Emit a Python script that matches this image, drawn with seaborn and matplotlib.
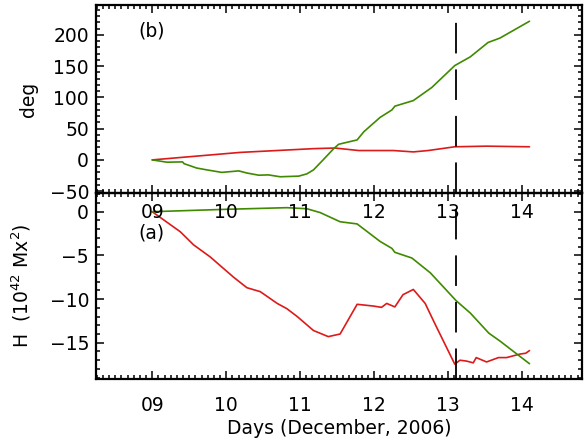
import matplotlib
matplotlib.use("Agg")
import matplotlib.pyplot as plt
from matplotlib.ticker import MultipleLocator, FuncFormatter
import numpy as np
import pandas as pd
import seaborn as sns

# ---- panel (b): angles in degrees ----
deg_green_t = [9.00, 9.20, 9.41, 9.43, 9.60, 9.74, 9.94, 10.17, 10.28, 10.44, 10.57,
               10.73, 10.98, 11.09, 11.18, 11.31, 11.45, 11.52, 11.77, 11.86, 12.08,
               12.24, 12.28, 12.53, 12.78, 13.09, 13.30, 13.54, 13.70, 14.10]
deg_green_v = [0, -3.7, -3.2, -6, -13, -16, -20, -17.6, -21, -24.5, -24,
               -27, -26, -22.4, -16, 0, 17.6, 25, 32, 45, 68,
               80, 86, 95, 116, 151, 165, 188, 195, 222]

deg_red_t = [9.00, 10.19, 11.18, 11.47, 11.79, 12.26, 12.53, 12.73, 13.09, 13.52, 14.10]
deg_red_v = [0, 12, 18, 19, 15, 15, 12.8, 15, 21, 22, 21]

# ---- panel (a): helicity H in 10^42 Mx^2 ----
h_green_t = [9.00, 9.99, 10.82, 11.09, 11.27, 11.54, 11.77, 12.08, 12.24, 12.28,
             12.51, 12.76, 13.11, 13.30, 13.55, 13.70, 14.10]
h_green_v = [0, 0.27, 0.46, 0.34, -0.1, -1.15, -1.4, -3.4, -4.2, -4.65,
             -5.3, -7.0, -10.2, -11.6, -13.9, -14.8, -17.4]

h_red_t = [9.00, 9.38, 9.56, 9.78, 10.10, 10.28, 10.46, 10.69, 10.82, 10.96, 11.18,
           11.38, 11.54, 11.77, 11.99, 12.10, 12.17, 12.28, 12.39, 12.53, 12.69,
           12.82, 13.09, 13.16, 13.25, 13.34, 13.38, 13.52, 13.68, 13.79, 13.97,
           14.05, 14.10]
h_red_v = [0, -2.3, -3.8, -5.15, -7.5, -8.7, -9.15, -10.5, -11.1, -12.0, -13.6,
           -14.3, -14.0, -10.6, -10.8, -10.95, -10.5, -10.9, -9.5, -8.9, -10.5,
           -12.8, -17.45, -17.0, -17.1, -17.3, -16.7, -17.2, -16.7, -16.7, -16.3,
           -16.2, -15.9]

event_day = 13.10

GREEN = "#3f8a00"
RED = "#dd1a1a"

sns.set_style("ticks", {"axes.edgecolor": "black", "text.color": "black",
                        "axes.labelcolor": "black", "xtick.color": "black",
                        "ytick.color": "black"})
plt.rcParams["font.family"] = ["DejaVu Sans"]
plt.rcParams["lines.scale_dashes"] = False

fig = plt.figure(figsize=(5.85, 4.45), dpi=100)
ax_b = fig.add_axes([96 / 585, 1 - 193 / 445, 486 / 585, 188 / 445])
ax_a = fig.add_axes([96 / 585, 1 - 379 / 445, 486 / 585, 186 / 445])
ax_b.set_zorder(3)
ax_b.patch.set_visible(False)

def draw(ax, t, v, color):
    df = pd.DataFrame({"t": t, "v": v})
    sns.lineplot(data=df, x="t", y="v", color=color, lw=1.2, ax=ax,
                 estimator=None, sort=False)

draw(ax_b, deg_red_t, deg_red_v, RED)
draw(ax_b, deg_green_t, deg_green_v, GREEN)
draw(ax_a, h_red_t, h_red_v, RED)
draw(ax_a, h_green_t, h_green_v, GREEN)

dash = (0, (22, 11.5))
ax_b.axvline(event_day, ymin=0, ymax=0.93, color="black", lw=1.3, ls=dash)
ax_a.axvline(event_day, ymin=0, ymax=1, color="black", lw=1.3, ls=dash)

fs = 13.5
for ax in (ax_b, ax_a):
    ax.set_xlim(8.24, 14.81)
    ax.xaxis.set_major_locator(MultipleLocator(1))
    ax.xaxis.set_minor_locator(MultipleLocator(1 / 12))
    ax.xaxis.set_major_formatter(FuncFormatter(lambda x, p: f"{int(round(x)):02d}"))
    ax.tick_params(which="both", direction="in", top=True, right=True,
                   width=1.1, labelsize=fs, color="black", labelcolor="black")
    ax.tick_params(which="major", length=5.5)
    ax.tick_params(which="minor", length=3)
    for s in ax.spines.values():
        s.set_linewidth(1.6)
        s.set_color("black")
    ax.set_xlabel("")
    ax.set_ylabel("")

ax_b.set_ylim(-53, 248)
ax_b.yaxis.set_major_locator(MultipleLocator(50))
ax_b.yaxis.set_minor_locator(MultipleLocator(10))
ax_b.tick_params(axis="x", which="major", pad=7)
ax_b.tick_params(axis="y", which="major", pad=5)

ax_a.set_ylim(-19.15, 2.14)
ax_a.yaxis.set_major_locator(MultipleLocator(5))
ax_a.yaxis.set_minor_locator(MultipleLocator(1))
ax_a.tick_params(axis="x", which="major", pad=12)
ax_a.tick_params(axis="y", which="major", pad=5)

ax_b.set_ylabel("deg", fontsize=fs)
ax_b.yaxis.set_label_coords(-0.119, 0.5)
ax_a.set_ylabel(r"H  (10$^{42}$ Mx$^{2}$)", fontsize=fs)
ax_a.yaxis.set_label_coords(-0.13, 0.5)
ax_a.set_xlabel("Days (December, 2006)", fontsize=fs)
ax_a.xaxis.set_label_coords(0.5, -0.215)

ax_b.text(8.99, 206, "(b)", fontsize=fs, ha="center", va="center")
ax_a.text(8.99, -2.44, "(a)", fontsize=fs, ha="center", va="center")

fig.savefig("out.png", dpi=100)
